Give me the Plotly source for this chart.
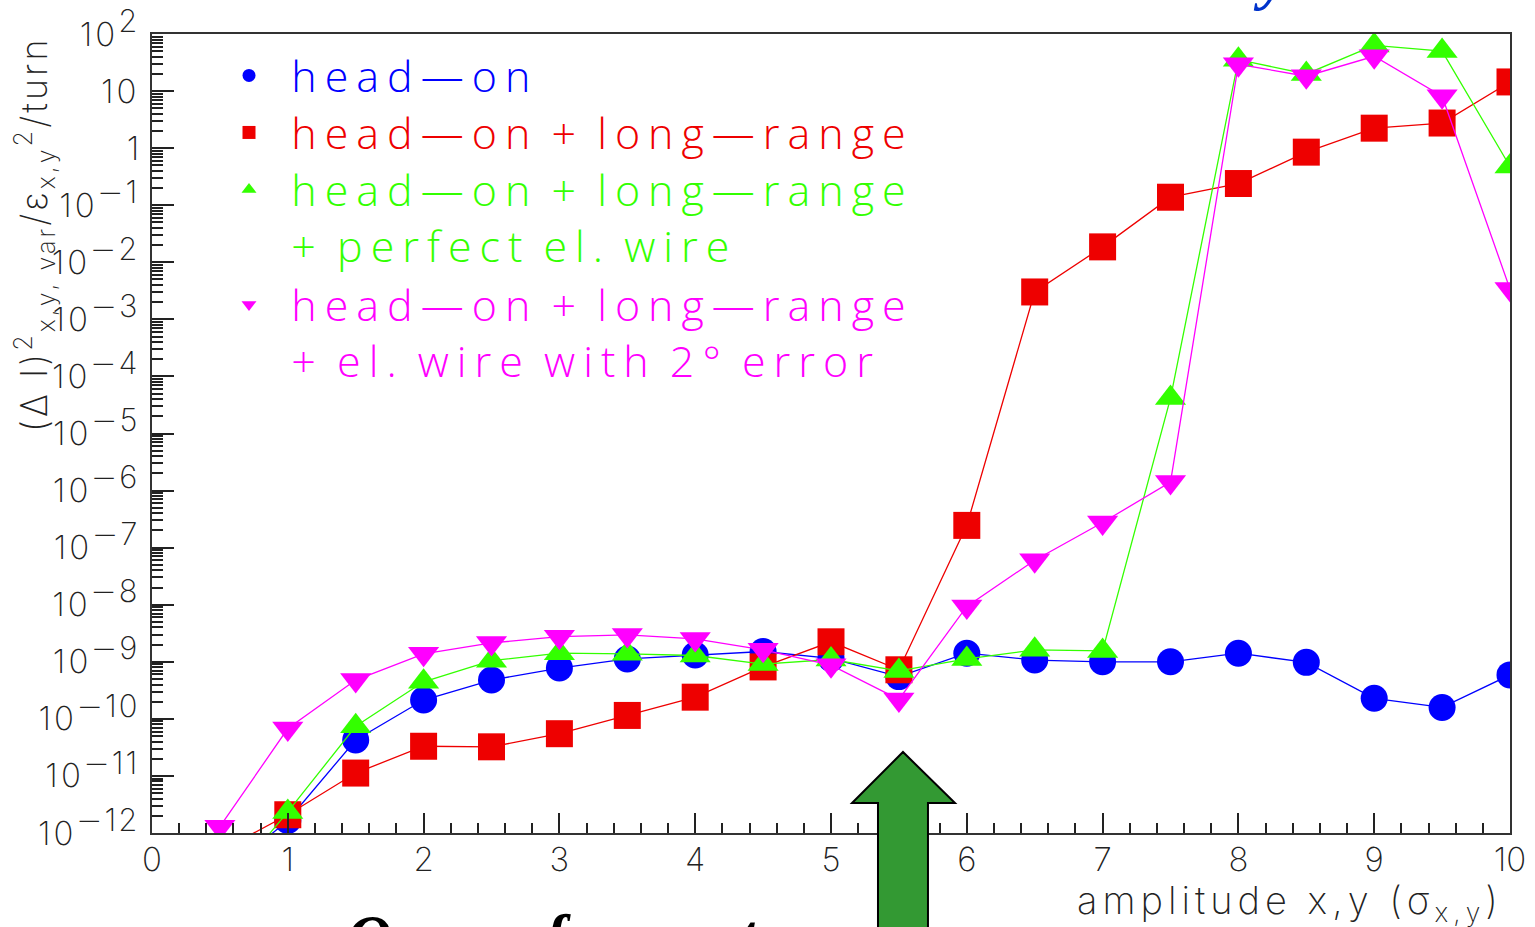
import plotly.graph_objects as go

# amplitude in units of sigma
amplitude = [0.5, 1.0, 1.5, 2.0, 2.5, 3.0, 3.5, 4.0, 4.5, 5.0,
             5.5, 6.0, 6.5, 7.0, 7.5, 8.0, 8.5, 9.0, 9.5, 10.0]

# log10 of (dI)^2 / eps^2 per turn for each configuration
log_head_on = [-12.77, -11.78, -10.37, -9.67, -9.32, -9.11, -8.95, -8.88, -8.82, -8.94,
               -9.26, -8.85, -8.97, -9.00, -9.00, -8.85, -9.01, -9.64, -9.80, -9.23]
log_ho_lr = [-12.32, -11.68, -10.95, -10.48, -10.49, -10.26, -9.94, -9.62, -9.09, -8.65,
             -9.14, -6.61, -2.52, -1.73, -0.86, -0.62, -0.07, 0.35, 0.44, 1.16]
log_ho_lr_wire = [-13.05, -11.63, -10.13, -9.35, -8.98, -8.85, -8.86, -8.89, -9.04, -8.96,
                  -9.16, -8.95, -8.79, -8.81, -4.38, 1.55, 1.30, 1.80, 1.70, -0.32]
log_ho_lr_wire_err = [-11.89, -10.17, -9.32, -8.86, -8.67, -8.56, -8.53, -8.60, -8.79, -9.06,
                      -9.66, -8.03, -7.22, -6.56, -5.85, 1.47, 1.26, 1.61, 0.91, -2.47]

series_lines = [
    ["head—on"],
    ["head—on + long—range"],
    ["head—on + long—range", "+ perfect el. wire"],
    ["head—on + long—range", "+ el. wire with 2° error"],
]
series_logs = [log_head_on, log_ho_lr, log_ho_lr_wire, log_ho_lr_wire_err]
colors = ["#0000ff", "#ee0000", "#33ff00", "#ff00ff"]
symbols = ["circle", "square", "triangle-up", "triangle-down"]
legend_ids = ["legend", "legend2", "legend3", "legend4"]
# vertical centre (px from top) of the first text line of each legend entry
legend_line_px = [78, 135, 192, 307]

decades = list(range(-12, 3))

FIG_W, FIG_H = 1535, 927
M_L, M_R, M_T, M_B = 152, 25, 34, 94
PLOT_H = FIG_H - M_T - M_B

THIN = "Inter, DejaVu Sans, sans-serif"
LEG_FONT = "Open Sans"
W = 200
INK = "#222222"


def spaced(text, px):
    return '<span style="letter-spacing:%spx">%s</span>' % (px, text)


def decade_label(k):
    if k == 0:
        return "1"
    if k == 1:
        return spaced("10", 3)
    digits = str(abs(k))
    sign = '<span style="font-family:DejaVu Sans">−</span>' if k < 0 else ""
    return (spaced("10", 3) + '<sup><span style="font-size:31px;letter-spacing:2px">'
            + sign + digits + "</span></sup>")


def legend_line(text, col):
    return ('<span style="color:%s;letter-spacing:8px;word-spacing:-6px">\u2004%s</span>'
            % (col, text))


def paper_y(px):
    return (FIG_H - M_B - px) / PLOT_H


fig = go.Figure()

for logs, col, sym in zip(series_logs, colors, symbols):
    fig.add_trace(go.Scatter(
        x=amplitude,
        y=[10 ** v for v in logs],
        mode="lines+markers",
        line=dict(color=col, width=1.3),
        marker=dict(symbol=sym, size=27, color=col, line=dict(width=0)),
        showlegend=False,
        hoverinfo="x+y",
    ))

# legend entries: small marker, coloured widely spaced text
LEG_SIZE = 43
for lines, col, sym, lid in zip(series_lines, colors, symbols, legend_ids):
    fig.add_trace(go.Scatter(
        x=[None], y=[None], mode="markers",
        marker=dict(symbol=sym, size=13, color=col),
        name="<br>".join(legend_line(ln, col) for ln in lines),
        legend=lid, showlegend=True,
    ))

legend_layouts = {}
for lid, py in zip(legend_ids, legend_line_px):
    legend_layouts[lid] = dict(
        x=(229 - M_L) / (FIG_W - M_L - M_R), y=paper_y(py - 37),
        xanchor="left", yanchor="top", valign="top",
        bgcolor="rgba(0,0,0,0)", borderwidth=0,
        font=dict(family=LEG_FONT, size=LEG_SIZE, weight=300),
    )

fig.update_xaxes(
    range=[0, 10], dtick=1, tick0=0,
    ticks="inside", ticklen=20, tickwidth=1.5, tickcolor=INK,
    minor=dict(ticks="inside", ticklen=10, dtick=0.2, tick0=0, tickwidth=1.5, tickcolor=INK, showgrid=False),
    showline=True, linecolor="#333333", linewidth=2, mirror=True,
    showgrid=False, zeroline=False, automargin=False,
    tickfont=dict(family=THIN, size=33, color=INK, weight=W),
    ticklabelstandoff=-4,
)

fig.update_yaxes(
    type="log", range=[-12, 2],
    tickmode="array", tickvals=[10.0 ** k for k in decades],
    ticktext=[decade_label(k) for k in decades],
    ticks="inside", ticklen=22, tickwidth=1.5, tickcolor=INK,
    minor=dict(ticks="inside", ticklen=11, dtick="D1", tickwidth=1.5, tickcolor=INK, showgrid=False),
    showline=True, linecolor="#333333", linewidth=2, mirror=True,
    showgrid=False, zeroline=False, automargin=False,
    tickfont=dict(family=THIN, size=33, color=INK, weight=W),
    ticklabelstandoff=4,
)

annotations = [
    # y axis title, right-aligned with the top of the frame
    dict(text=spaced("(Δ I)<sup>2</sup><sub>x,y, var</sub>/ε<sub>x,y</sub><sup>2</sup>/turn", 3),
         textangle=-90, xref="paper", yref="paper", x=(34 - M_L) / (FIG_W - M_L - M_R), y=1.0,
         xanchor="center", yanchor="top", showarrow=False,
         font=dict(family=THIN, size=36, color=INK, weight=W)),
    # x axis title, right-aligned with the end of the axis
    dict(text=spaced("amplitude x,y (σ<sub>x,y</sub>)", 5),
         xref="paper", yref="paper", x=(1505 - M_L) / (FIG_W - M_L - M_R), y=paper_y(902),
         xanchor="right", yanchor="middle", showarrow=False,
         font=dict(family=THIN, size=38, color=INK, weight=W)),
    # slide captions running off the page edges
    dict(text="<b><i>y</i></b>", xref="paper", yref="paper", x=0.824, y=1.026,
         xanchor="center", yanchor="bottom", showarrow=False,
         font=dict(family="Liberation Serif", size=62, color="#0033cc")),
    dict(text="<b><i>Occurs for most</i></b>", xref="paper", yref="paper", x=0.1421, y=-0.084,
         xanchor="left", yanchor="top", showarrow=False,
         font=dict(family="Liberation Serif", size=62, color="#000000")),
]

arrow_path = ("M 0.5155 0.0375 L 0.5530 0.1014 L 0.5913 0.0375 L 0.5714 0.0375 "
              "L 0.5714 -0.1300 L 0.5346 -0.1300 L 0.5346 0.0375 Z")

fig.update_layout(
    width=FIG_W, height=FIG_H,
    margin=dict(l=M_L, r=M_R, t=M_T, b=M_B, autoexpand=False),
    paper_bgcolor="white", plot_bgcolor="white",
    font=dict(family=THIN, color=INK, weight=W),
    annotations=annotations,
    shapes=[dict(type="path", path=arrow_path, xref="paper", yref="paper",
                 fillcolor="#339933", line=dict(color="#000000", width=2), layer="above")],
    **legend_layouts,
)

fig.write_html("out.html")
